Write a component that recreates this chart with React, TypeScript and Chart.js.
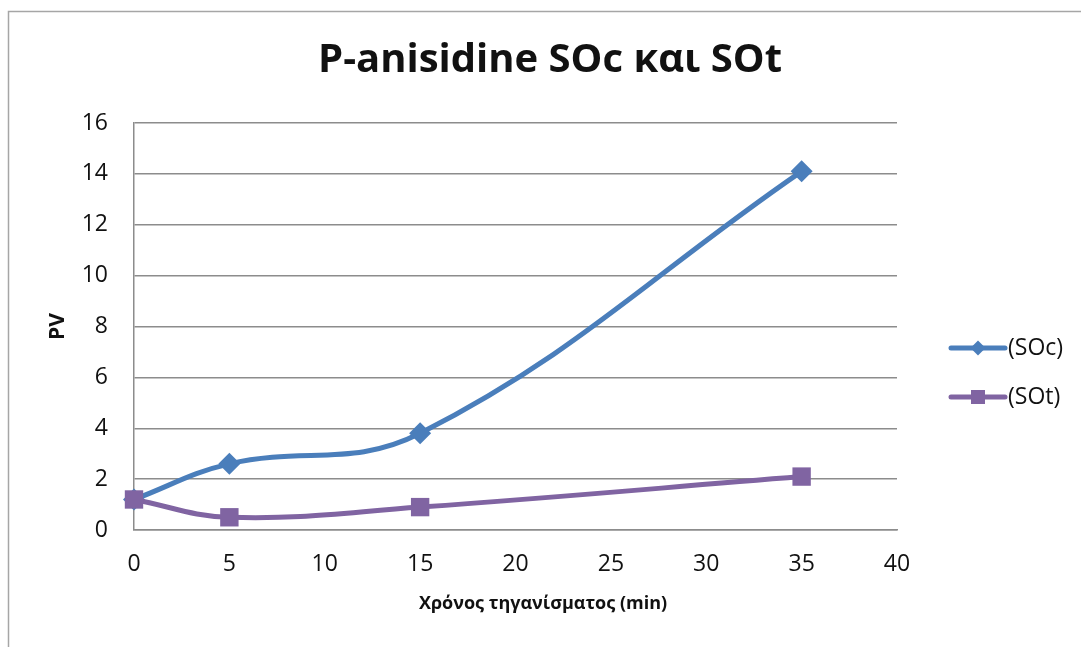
import React, { useEffect, useRef } from "react";
import { Chart, registerables } from "chart.js";

Chart.register(...registerables);

// Frying time (min) and p-anisidine values for the two oil samples
const timeMinutes = [0, 5, 15, 35];
const socValues = [1.2, 2.6, 3.8, 14.1];
const sotValues = [1.2, 0.5, 0.9, 2.1];

const seriesLabels = ["(SOc)", "(SOt)"];
const chartTitle = "P-anisidine SOc και SOt";
const xAxisTitle = "Χρόνος τηγανίσματος (min)";
const yAxisTitle = "PV";

const xTickStep = 5;
const xRange = [0, 40];
const yTickStep = 2;
const yRange = [0, 16];

const BLUE = "#4a7ebb";
const PURPLE = "#8064a2";
const GRID = "#8c8c8c";
const TEXT = "#111111";
const FONT = "'Open Sans', 'Noto Sans', sans-serif";

// Outer frame of the chart area (left and top edges)
const framePlugin = {
  id: "frame",
  beforeDraw(chart: Chart) {
    const ctx = chart.ctx;
    ctx.save();
    ctx.strokeStyle = "#a6a6a6";
    ctx.lineWidth = 1.5;
    ctx.beginPath();
    ctx.moveTo(8.5, chart.height);
    ctx.lineTo(8.5, 11.5);
    ctx.lineTo(chart.width, 11.5);
    ctx.stroke();
    ctx.restore();
  },
};

// Horizontal axis title, placed under the tick labels
const xTitlePlugin = {
  id: "xTitle",
  afterDraw(chart: Chart) {
    const ctx = chart.ctx;
    ctx.save();
    ctx.font = `bold 18px ${FONT}`;
    ctx.fillStyle = TEXT;
    ctx.textAlign = "center";
    ctx.textBaseline = "middle";
    ctx.fillText(xAxisTitle, 543, 604);
    ctx.restore();
  },
};

// Legend to the right of the plot: line sample with marker, then label
const sideLegendPlugin = {
  id: "sideLegend",
  afterDraw(chart: Chart) {
    const ctx = chart.ctx;
    const rows = [
      { label: seriesLabels[0], color: BLUE, shape: "diamond", y: 348 },
      { label: seriesLabels[1], color: PURPLE, shape: "square", y: 397 },
    ];
    ctx.save();
    for (const r of rows) {
      ctx.strokeStyle = r.color;
      ctx.fillStyle = r.color;
      ctx.lineWidth = 5;
      ctx.lineCap = "round";
      ctx.beginPath();
      ctx.moveTo(951, r.y);
      ctx.lineTo(1005, r.y);
      ctx.stroke();
      const cx = 978;
      ctx.beginPath();
      if (r.shape === "diamond") {
        ctx.moveTo(cx, r.y - 7.5);
        ctx.lineTo(cx + 7.5, r.y);
        ctx.lineTo(cx, r.y + 7.5);
        ctx.lineTo(cx - 7.5, r.y);
        ctx.closePath();
      } else {
        ctx.rect(cx - 7, r.y - 7, 14, 14);
      }
      ctx.fill();
      ctx.font = `23px ${FONT}`;
      ctx.fillStyle = TEXT;
      ctx.textAlign = "left";
      ctx.textBaseline = "middle";
      ctx.fillText(r.label, 1008, r.y);
    }
    ctx.restore();
  },
};

export default function App() {
  const canvasRef = useRef<HTMLCanvasElement | null>(null);

  useEffect(() => {
    document.body.style.margin = "0";
    const canvas = canvasRef.current;
    if (!canvas) return;

    const chart = new Chart(canvas, {
      type: "line",
      data: {
        datasets: [
          {
            label: seriesLabels[0],
            data: timeMinutes.map((t, i) => ({ x: t, y: socValues[i] })),
            borderColor: BLUE,
            backgroundColor: BLUE,
            borderWidth: 5,
            pointStyle: "rectRot",
            pointRadius: 11,
            pointBorderWidth: 0,
            pointBackgroundColor: BLUE,
            tension: 0.4,
            clip: false,
            order: 1,
          },
          {
            label: seriesLabels[1],
            data: timeMinutes.map((t, i) => ({ x: t, y: sotValues[i] })),
            borderColor: PURPLE,
            backgroundColor: PURPLE,
            borderWidth: 5,
            pointStyle: "rect",
            pointRadius: 13,
            pointBorderWidth: 0,
            pointBackgroundColor: PURPLE,
            tension: 0.4,
            clip: false,
            order: 0,
          },
        ],
      },
      options: {
        responsive: false,
        animation: false,
        layout: { padding: { left: 19, right: 0, top: 0, bottom: 0 } },
        plugins: {
          legend: { display: false },
          tooltip: { enabled: false },
          title: {
            display: true,
            text: chartTitle,
            color: TEXT,
            font: { family: FONT, size: 40, weight: "bold" },
            padding: { top: 37, bottom: 38 },
          },
        },
        scales: {
          x: {
            type: "linear",
            min: xRange[0],
            max: xRange[1],
            ticks: {
              stepSize: xTickStep,
              color: TEXT,
              font: { family: FONT, size: 23 },
              padding: 21,
              maxRotation: 0,
            },
            grid: { display: false, drawTicks: false },
            border: { display: true, color: GRID, width: 1.5 },
            afterFit(scale: any) {
              scale.height = 117;
            },
          },
          y: {
            type: "linear",
            min: yRange[0],
            max: yRange[1],
            ticks: {
              stepSize: yTickStep,
              color: TEXT,
              font: { family: FONT, size: 23 },
              padding: 26,
            },
            grid: { color: GRID, lineWidth: 1.5, drawTicks: false },
            border: { display: true, color: GRID, width: 1.5 },
            title: {
              display: true,
              text: yAxisTitle,
              color: TEXT,
              font: { family: FONT, size: 21, weight: "bold" },
              padding: { top: 26, bottom: 0 },
            },
            afterFit(scale: any) {
              scale.width = 115;
            },
          },
          legendSpace: {
            type: "linear",
            position: "right",
            display: true,
            min: 0,
            max: 1,
            ticks: { display: false },
            grid: { display: false, drawTicks: false },
            border: { display: false },
            afterFit(scale: any) {
              scale.width = 184;
            },
          },
        },
      },
      plugins: [framePlugin, xTitlePlugin, sideLegendPlugin],
    });

    return () => chart.destroy();
  }, []);

  return <canvas ref={canvasRef} width={1081} height={647} style={{ display: "block" }} />;
}
